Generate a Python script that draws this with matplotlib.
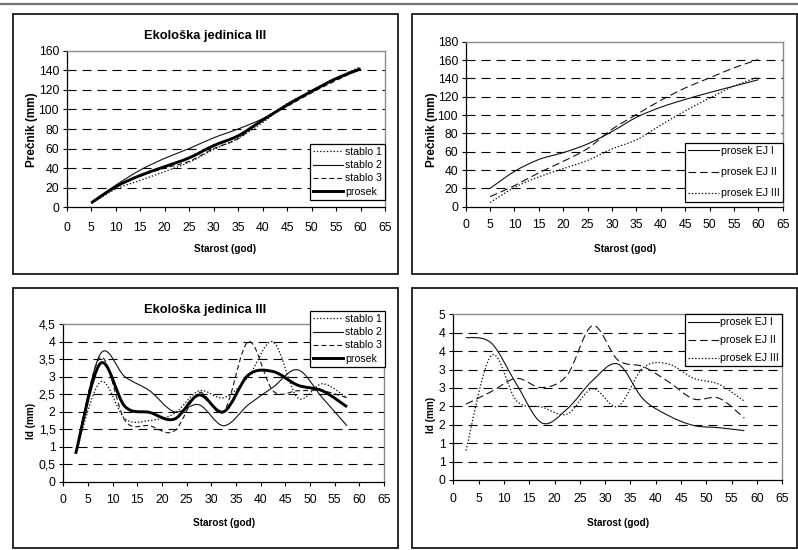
import numpy as np
import matplotlib
matplotlib.use("Agg")
import matplotlib.pyplot as plt
from matplotlib.path import Path
from matplotlib.patches import PathPatch, Rectangle
from matplotlib.lines import Line2D

# ---------------- data ----------------
years_d = [5, 10, 15, 20, 25, 30, 35, 40, 45, 50, 55, 60]
years_id = [2.5, 7.5, 12.5, 17.5, 22.5, 27.5, 32.5, 37.5, 42.5, 47.5, 52.5, 57.5]

# top-left: diameters, Ekoloska jedinica III
d_stablo1 = [4, 18.5, 27.5, 36.5, 46, 59, 70.5, 86.5, 106, 118.5, 132, 143.5]
d_stablo2 = [4.5, 22.5, 38, 50, 60, 71, 80, 90.5, 104, 119, 131, 140.5]
d_stablo3 = [4.5, 21.5, 32, 40, 47, 60, 70, 89.5, 103, 117, 129.5, 141.5]
d_prosek = [4.5, 21, 32.5, 41.5, 50.5, 63, 73, 89, 104.5, 118.5, 131.5, 141.5]

# top-right: diameters, average per ecological unit
d_ej1 = [20, 38.5, 51.5, 59, 68.5, 82, 97.5, 108.5, 117, 124.5, 131.5, 138.5]
d_ej2 = [11, 23, 37, 49.5, 63.5, 84.5, 100.5, 116, 129.5, 140.5, 151.5, 160.5]
d_ej3 = [4.5, 21, 32.5, 41.5, 50.5, 63, 73, 89, 104.5, 118.5, 131.5, 141.5]

# bottom-left: Id, Ekoloska jedinica III
id_stablo1 = [0.8, 2.85, 1.8, 1.75, 1.95, 2.6, 2.4, 3.0, 4.0, 2.4, 2.8, 2.4]
id_stablo2 = [0.8, 3.65, 3.0, 2.6, 2.0, 2.2, 1.6, 2.2, 2.7, 3.2, 2.4, 1.6]
id_stablo3 = [0.8, 3.55, 1.75, 1.6, 1.45, 2.55, 2.0, 4.0, 2.6, 2.6, 2.6, 2.4]
id_prosek = [0.8, 3.38, 2.15, 1.98, 1.79, 2.48, 2.0, 3.05, 3.15, 2.76, 2.6, 2.14]

# bottom-right: Id, average per ecological unit
id_ej1 = [3.87, 3.72, 2.6, 1.55, 1.93, 2.7, 3.15, 2.2, 1.75, 1.48, 1.42, 1.34]
id_ej2 = [2.06, 2.4, 2.76, 2.51, 2.85, 4.19, 3.26, 3.08, 2.67, 2.2, 2.22, 1.68]
id_ej3 = [0.8, 3.38, 2.15, 1.98, 1.79, 2.48, 2.0, 3.05, 3.15, 2.76, 2.6, 2.14]

x_ticks = list(range(0, 70, 5))
y_ticks_tl = list(range(0, 180, 20))
y_ticks_tr = list(range(0, 200, 20))
y_ticks_id = [0, 0.5, 1, 1.5, 2, 2.5, 3, 3.5, 4, 4.5]
y_labels_bl = ["0", "0,5", "1", "1,5", "2", "2,5", "3", "3,5", "4", "4,5"]
y_labels_br = ["0", "1", "1", "2", "2", "3", "3", "4", "4", "5"]

title_text = "Ekološka jedinica III"
xlab = "Starost (god)"
ylab_d = "Prečnik (mm)"
ylab_id = "Id (mm)"

# ---------------- style ----------------
plt.rcParams["lines.scale_dashes"] = False
FAM = ["Liberation Sans", "DejaVu Sans"]
plt.rcParams["font.family"] = FAM

W, H = 798, 550
fig = plt.figure(figsize=(W / 100, H / 100), dpi=100)


def fx(px):
    return px / W


def fy(py):
    return 1 - py / H


def add_axes(x0, y0, x1, y1):
    return fig.add_axes([fx(x0), fy(y1), fx(x1 - x0), (y1 - y0) / H])


# page elements: top grey rule and panel frames
fig.add_artist(Line2D([0, 1], [fy(4), fy(4)], color="#777777", lw=1.6,
                      transform=fig.transFigure))
for (x0, y0, x1, y1) in [(13, 14, 398, 274), (412, 14, 797, 274),
                         (13, 288, 398, 548), (412, 288, 797, 548)]:
    fig.add_artist(Rectangle((fx(x0), fy(y1)), fx(x1 - x0), (y1 - y0) / H,
                             transform=fig.transFigure, fill=False,
                             edgecolor="#1a1a1a", lw=1.3))

DOT = (0, (1.0, 1.4))
DASH3 = (0, (3.5, 2.2))
DASH_LONG = (0, (5.5, 2.8))
STY = {
    "dot": dict(linestyle=DOT, lw=0.9, color="#111111"),
    "solid": dict(linestyle="-", lw=0.8, color="#111111"),
    "dash": dict(linestyle=DASH3, lw=0.8, color="#111111"),
    "dashl": dict(linestyle=DASH_LONG, lw=0.8, color="#111111"),
    "thick": dict(linestyle="-", lw=2.1, color="#000000"),
}


def smooth_path(xs, ys):
    pts = np.column_stack([xs, ys]).astype(float)
    n = len(pts)
    verts = [pts[0]]
    codes = [Path.MOVETO]
    for i in range(n - 1):
        p0 = pts[i - 1] if i > 0 else pts[i]
        p1 = pts[i]
        p2 = pts[i + 1]
        p3 = pts[i + 2] if i + 2 < n else pts[i + 1]
        c1 = p1 + (p2 - p0) / 6.0
        c2 = p2 - (p3 - p1) / 6.0
        verts += [c1, c2, p2]
        codes += [Path.CURVE4] * 3
    return Path(verts, codes)


def draw_series(ax, xs, ys, style):
    st = STY[style]
    ax.add_patch(PathPatch(smooth_path(xs, ys), fill=False, edgecolor=st["color"],
                           lw=st["lw"], linestyle=st["linestyle"],
                           capstyle="butt", joinstyle="round", zorder=3))
    return Line2D([], [], color=st["color"], lw=st["lw"], linestyle=st["linestyle"])


def setup(ax, yticks, ylabels, ymax, xpad):
    ax.set_xlim(0, 65)
    ax.set_ylim(0, ymax)
    ax.set_xticks(x_ticks)
    ax.set_xticklabels([str(v) for v in x_ticks])
    ax.set_yticks(yticks)
    ax.set_yticklabels(ylabels)
    for s in ["top", "right"]:
        ax.spines[s].set_color("#8a8a8a")
        ax.spines[s].set_linewidth(1.0)
    for s in ["left", "bottom"]:
        ax.spines[s].set_color("black")
        ax.spines[s].set_linewidth(0.9)
    ax.tick_params(axis="both", direction="out", length=3, width=0.8,
                   colors="black", labelsize=8.8)
    ax.tick_params(axis="x", pad=xpad)
    ax.tick_params(axis="y", pad=2.5)
    ax.yaxis.grid(True, color="black", lw=0.8, linestyle=(0, (6.5, 4.3)))
    gl = ax.get_ygridlines()
    gl[0].set_visible(False)
    gl[-1].set_visible(False)
    ax.set_axisbelow(True)


def ftext(px, py, s, size, rot=0):
    fig.text(fx(px), fy(py), s, ha="center", va="center", rotation=rot,
             fontsize=size, fontweight="bold", family=FAM)


def legend(ax, handles, labels, x1, y0, spacing):
    leg = ax.legend(handles, labels, loc="upper right",
                    bbox_to_anchor=(fx(x1), fy(y0)), bbox_transform=fig.transFigure,
                    borderaxespad=0, frameon=True, fancybox=False, framealpha=1,
                    edgecolor="black", handlelength=2.9, handletextpad=0.15,
                    borderpad=0.3, labelspacing=spacing,
                    prop=dict(family=FAM, size=7.6))
    leg.get_frame().set_linewidth(0.9)
    leg.set_zorder(10)
    return leg


# ---------------- top-left ----------------
ax1 = add_axes(66.7, 50.7, 385, 207.3)
setup(ax1, y_ticks_tl, [str(v) for v in y_ticks_tl], 160, 7.5)
h = [draw_series(ax1, years_d, d_stablo1, "dot"),
     draw_series(ax1, years_d, d_stablo2, "solid"),
     draw_series(ax1, years_d, d_stablo3, "dash"),
     draw_series(ax1, years_d, d_prosek, "thick")]
legend(ax1, h, ["stablo 1", "stablo 2", "stablo 3", "prosek"], 385, 144, 0.3)
ftext(205, 36.5, title_text, 9.3)
ftext(225, 248.5, xlab, 7.2)
ftext(31.5, 130, ylab_d, 8.5, rot=90)

# ---------------- top-right ----------------
ax2 = add_axes(465.7, 41.7, 782.7, 206.7)
setup(ax2, y_ticks_tr, [str(v) for v in y_ticks_tr], 180, 6.0)
h = [draw_series(ax2, years_d, d_ej1, "solid"),
     draw_series(ax2, years_d, d_ej2, "dashl"),
     draw_series(ax2, years_d, d_ej3, "dot")]
legend(ax2, h, ["prosek EJ I", "prosek EJ II", "prosek EJ III"], 782.7, 143, 1.05)
ftext(625, 248.5, xlab, 7.2)
ftext(431.5, 130, ylab_d, 8.5, rot=90)

# ---------------- bottom-left ----------------
ax3 = add_axes(63.3, 324.3, 384, 481.7)
setup(ax3, y_ticks_id, y_labels_bl, 4.5, 5.5)
h = [draw_series(ax3, years_id, id_stablo1, "dot"),
     draw_series(ax3, years_id, id_stablo2, "solid"),
     draw_series(ax3, years_id, id_stablo3, "dash"),
     draw_series(ax3, years_id, id_prosek, "thick")]
legend(ax3, h, ["stablo 1", "stablo 2", "stablo 3", "prosek"], 385, 311, 0.3)
ftext(205, 310, title_text, 9.3)
ftext(224, 523.5, xlab, 7.2)
ftext(31.5, 421, ylab_id, 7.2, rot=90)

# ---------------- bottom-right ----------------
ax4 = add_axes(453.3, 314.3, 782.3, 480)
setup(ax4, y_ticks_id, y_labels_br, 4.5, 6.5)
h = [draw_series(ax4, years_id, id_ej1, "solid"),
     draw_series(ax4, years_id, id_ej2, "dashl"),
     draw_series(ax4, years_id, id_ej3, "dot")]
legend(ax4, h, ["prosek EJ I", "prosek EJ II", "prosek EJ III"], 782.3, 314.3, 0.75)
ftext(618, 523.5, xlab, 7.2)
ftext(431.5, 415, ylab_id, 7.2, rot=90)

fig.savefig("out.png", dpi=100)
